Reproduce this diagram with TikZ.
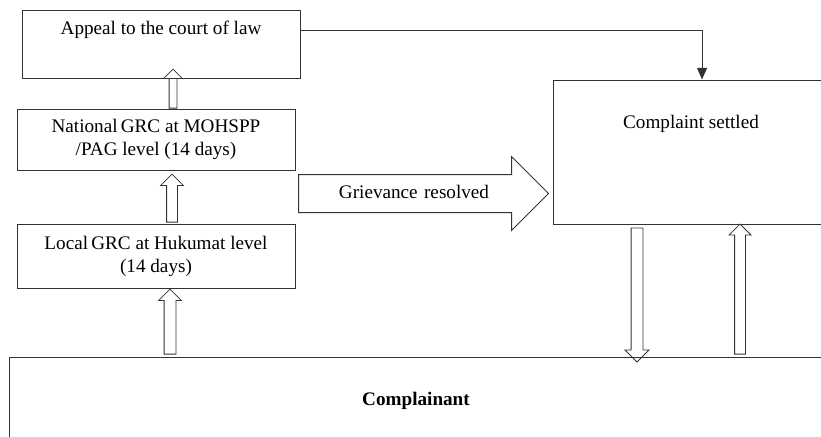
\documentclass[tikz,border=0pt]{standalone}
\usepackage{fontspec}
\setmainfont{Liberation Serif}
\usetikzlibrary{shapes.arrows,arrows.meta,calc}

\begin{document}
\begin{tikzpicture}[x=0.6pt,y=-0.6pt,line width=0.6pt,
		every node/.style={font=\fontsize{11.5}{13.8}\selectfont},
		box/.style={draw=black!80,rectangle,align=center,inner sep=2pt},
		hollow/.style={draw=black!80,single arrow,inner xsep=0pt,line width=0.5pt}]
	\path[use as bounding box,clip] (0,0) rectangle (821,436);
	% boxes
	\node[box,minimum width=166.8pt,minimum height=40.8pt] (appeal) at (161,44) {};
	\node (appealtext) at (161,30) {Appeal to the court of law};
	\node[box,minimum width=166.8pt,minimum height=36.6pt] (national) at (156,139.5) {National\,GRC at MOHSPP\\/PAG level (14 days)};
	\node[box,minimum width=166.8pt,minimum height=38.4pt] (local) at (156,256) {Local\,GRC at Hukumat level\\(14 days)};
	\node[box,minimum width=165.6pt,minimum height=86.4pt] (settled) at (691,152) {};
	\node (settledtext) at (691,124) {Complaint settled};
	\node[box,minimum width=488.4pt,minimum height=52.8pt,font=\fontsize{11.5}{13.8}\selectfont\bfseries] (complainant) at (416,401) {Complainant};
	% grievance resolved
	\node[draw=black!80,single arrow,single arrow head extend=10.8pt,text width=138pt,align=center,text height=8pt,text depth=2pt,inner ysep=6.1pt,inner xsep=0pt,anchor=tail] (resolved) at (298,193.5) {Grievance resolved};
	% hollow arrows
	\node[hollow,rotate=90,anchor=tail,minimum height=23.4pt,inner ysep=2.1pt,single arrow head extend=3.3pt] (up1) at ($(national.north)+(17,0)$) {};
	\node[hollow,rotate=90,anchor=tip,minimum height=28.8pt,inner ysep=3pt,single arrow head extend=3.6pt] (up2) at ($(national.south)+(16,3)$) {};
	\node[hollow,rotate=90,anchor=tip,minimum height=39pt,inner ysep=3.3pt,single arrow head extend=3.3pt] (up3) at ($(local.south)+(14,0)$) {};
	\node[hollow,rotate=-90,anchor=tail,minimum height=80.4pt,inner ysep=3.3pt,single arrow head extend=3.6pt] (down) at ($(settled.south)+(-54,3)$) {};
	\node[hollow,rotate=90,anchor=tip,minimum height=78pt,inner ysep=3pt,single arrow head extend=3.3pt] (upr) at ($(settled.south)+(49,-1)$) {};
	% appeal line
	\draw[draw=black!80,-{Triangle[width=6pt,length=7pt]}] (appealtext -| appeal.east) -| ($(settled.north)+(11,0)$);
\end{tikzpicture}
\end{document}
